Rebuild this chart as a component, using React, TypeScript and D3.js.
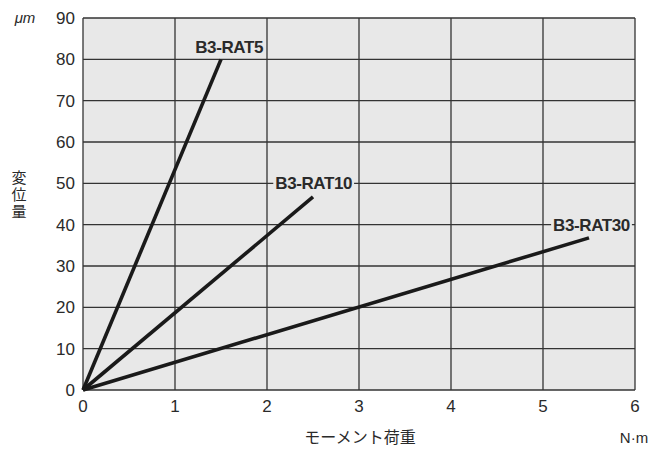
import React, { useEffect, useRef } from 'react';
import * as d3 from 'd3';

// Moment load (N·m) vs displacement (μm), straight lines from origin
const seriesNames = ['B3-RAT5', 'B3-RAT10', 'B3-RAT30'];
const endLoads = [1.5, 2.5, 5.5];
const endDisplacements = [80, 46.7, 36.8];
const xTicks = [0, 1, 2, 3, 4, 5, 6];
const yTicks = [0, 10, 20, 30, 40, 50, 60, 70, 80, 90];
// label left edge / vertical center (data units)
const labelX = [1.22, 2.09, 5.11];
const labelY = [83.1, 50, 40];

const App: React.FC = () => {
  const svgRef = useRef<SVGSVGElement>(null);

  useEffect(() => {
    if (!svgRef.current) return;
    const svg = d3.select(svgRef.current);
    svg.selectAll('*').remove();

    const width = 668;
    const height = 449;
    const margin = { top: 18, right: 33, bottom: 59, left: 83 };
    const innerWidth = width - margin.left - margin.right;
    const innerHeight = height - margin.top - margin.bottom;

    const x = d3.scaleLinear().domain([0, 6]).range([0, innerWidth]);
    const y = d3.scaleLinear().domain([0, 90]).range([innerHeight, 0]);

    const g = svg.append('g').attr('transform', `translate(${margin.left},${margin.top})`);
    const font = 'Liberation Sans, Arial, sans-serif';
    const cjk = 'Noto Sans CJK JP, sans-serif';
    const textColor = '#2a2a2a';

    g.append('rect')
      .attr('width', innerWidth)
      .attr('height', innerHeight)
      .attr('fill', '#e8e8e8');

    // grid
    g.selectAll('.hgrid')
      .data(yTicks)
      .enter()
      .append('line')
      .attr('x1', 0)
      .attr('x2', innerWidth)
      .attr('y1', d => y(d))
      .attr('y2', d => y(d))
      .attr('stroke', '#333')
      .attr('stroke-width', 1.3);

    g.selectAll('.vgrid')
      .data(xTicks)
      .enter()
      .append('line')
      .attr('x1', d => x(d))
      .attr('x2', d => x(d))
      .attr('y1', 0)
      .attr('y2', innerHeight)
      .attr('stroke', '#333')
      .attr('stroke-width', 1.3);

    // tick labels
    g.selectAll('.ylab')
      .data(yTicks)
      .enter()
      .append('text')
      .attr('x', -8)
      .attr('y', d => y(d))
      .attr('dy', '0.36em')
      .attr('text-anchor', 'end')
      .attr('font-family', font)
      .attr('font-size', 17)
      .attr('fill', textColor)
      .text(d => d);

    g.selectAll('.xlab')
      .data(xTicks)
      .enter()
      .append('text')
      .attr('x', d => x(d))
      .attr('y', innerHeight + 22)
      .attr('text-anchor', 'middle')
      .attr('font-family', font)
      .attr('font-size', 17)
      .attr('fill', textColor)
      .text(d => d);

    // lines
    const line = d3.line<[number, number]>()
      .x(d => x(d[0]))
      .y(d => y(d[1]));

    seriesNames.forEach((name, i) => {
      g.append('path')
        .datum([[0, 0], [endLoads[i], endDisplacements[i]]] as [number, number][])
        .attr('d', line)
        .attr('fill', 'none')
        .attr('stroke', '#1a1a1a')
        .attr('stroke-width', 3.6)
        .attr('stroke-linecap', 'butt');

      const lbl = g.append('text')
        .attr('x', x(labelX[i]))
        .attr('y', y(labelY[i]))
        .attr('dy', '0.36em')
        .attr('text-anchor', 'start')
        .attr('font-family', font)
        .attr('font-weight', 'bold')
        .attr('font-size', 17)
        .attr('letter-spacing', -0.4)
        .attr('fill', textColor)
        .text(name);
      const bb = (lbl.node() as SVGTextElement).getBBox();
      g.insert('rect', () => lbl.node())
        .attr('x', bb.x - 2)
        .attr('y', bb.y + 3)
        .attr('width', bb.width + 4)
        .attr('height', bb.height - 6)
        .attr('fill', '#e8e8e8');
    });

    // axis titles
    svg.append('text')
      .attr('x', 25)
      .attr('y', 23)
      .attr('text-anchor', 'middle')
      .attr('font-family', font)
      .attr('font-style', 'italic')
      .attr('font-size', 15)
      .attr('fill', textColor)
      .text('μm');

    svg.append('text')
      .attr('x', 19)
      .attr('y', 170)
      .attr('font-family', cjk)
      .attr('font-size', 15)
      .attr('letter-spacing', 2)
      .attr('fill', textColor)
      .style('writing-mode', 'vertical-rl')
      .text('変位量');

    svg.append('text')
      .attr('x', 360)
      .attr('y', 443)
      .attr('text-anchor', 'middle')
      .attr('font-family', cjk)
      .attr('font-size', 16)
      .attr('fill', textColor)
      .text('モーメント荷重');

    svg.append('text')
      .attr('x', 634)
      .attr('y', 443)
      .attr('text-anchor', 'middle')
      .attr('font-family', font)
      .attr('font-size', 15)
      .attr('fill', textColor)
      .text('N·m');
  }, []);

  return (
    <svg
      ref={svgRef}
      width={668}
      height={449}
      style={{ position: 'absolute', left: 0, top: 0, background: '#fff' }}
    />
  );
};

export default App;
